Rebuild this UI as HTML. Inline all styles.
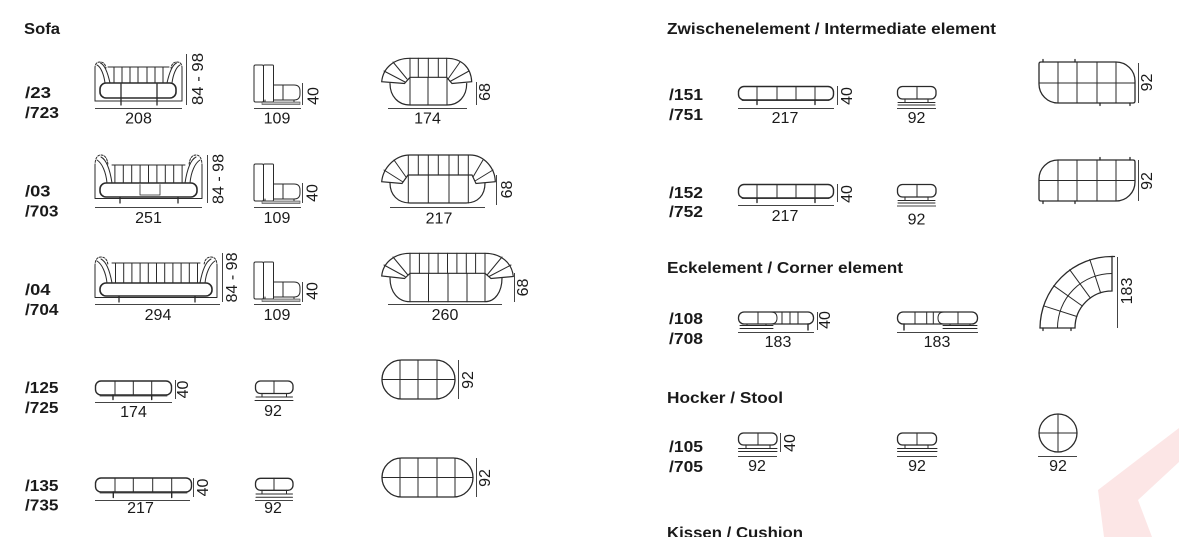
<!DOCTYPE html>
<html><head><meta charset="utf-8"><title>Sofa</title>
<style>
html,body{margin:0;padding:0;background:#fff;width:1179px;height:537px;overflow:hidden}
svg{display:block}
text{font-family:"Liberation Sans",Arial,sans-serif;fill:#1a1a1a}
.h,.l{font-weight:bold;font-size:16px}
.d{font-size:16px;text-anchor:middle}
</style></head><body>
<svg xmlns="http://www.w3.org/2000/svg" width="1179" height="537" viewBox="0 0 1179 537">
<rect width="1179" height="537" fill="#fff"/>
<polygon points="1098,490 1179,428 1179,462 1138,500 1152,537 1104,537" fill="#fce6e6"/>

<!-- headings -->
<text class="h" x="24" y="34" textLength="36" lengthAdjust="spacingAndGlyphs">Sofa</text>
<text class="h" x="667" y="34" textLength="329" lengthAdjust="spacingAndGlyphs">Zwischenelement / Intermediate element</text>
<text class="h" x="667" y="273" textLength="236" lengthAdjust="spacingAndGlyphs">Eckelement / Corner element</text>
<text class="h" x="667" y="403" textLength="116" lengthAdjust="spacingAndGlyphs">Hocker / Stool</text>
<text class="h" x="667" y="538" textLength="136" lengthAdjust="spacingAndGlyphs">Kissen / Cushion</text>

<!-- labels left -->
<text class="l" x="25" y="98" textLength="26" lengthAdjust="spacingAndGlyphs">/23</text>
<text class="l" x="25" y="118" textLength="34" lengthAdjust="spacingAndGlyphs">/723</text>
<text class="l" x="25" y="196.5" textLength="25.5" lengthAdjust="spacingAndGlyphs">/03</text>
<text class="l" x="25" y="216.5" textLength="33.5" lengthAdjust="spacingAndGlyphs">/703</text>
<text class="l" x="25" y="295" textLength="25.5" lengthAdjust="spacingAndGlyphs">/04</text>
<text class="l" x="25" y="315" textLength="33.5" lengthAdjust="spacingAndGlyphs">/704</text>
<text class="l" x="25" y="393" textLength="33.5" lengthAdjust="spacingAndGlyphs">/125</text>
<text class="l" x="25" y="413" textLength="33.5" lengthAdjust="spacingAndGlyphs">/725</text>
<text class="l" x="25" y="491" textLength="33.5" lengthAdjust="spacingAndGlyphs">/135</text>
<text class="l" x="25" y="510.5" textLength="33.5" lengthAdjust="spacingAndGlyphs">/735</text>
<!-- labels right -->
<text class="l" x="669" y="100" textLength="34" lengthAdjust="spacingAndGlyphs">/151</text>
<text class="l" x="669" y="120" textLength="34" lengthAdjust="spacingAndGlyphs">/751</text>
<text class="l" x="669" y="198" textLength="34" lengthAdjust="spacingAndGlyphs">/152</text>
<text class="l" x="669" y="217" textLength="34" lengthAdjust="spacingAndGlyphs">/752</text>
<text class="l" x="669" y="324" textLength="34" lengthAdjust="spacingAndGlyphs">/108</text>
<text class="l" x="669" y="344" textLength="34" lengthAdjust="spacingAndGlyphs">/708</text>
<text class="l" x="669" y="452" textLength="34" lengthAdjust="spacingAndGlyphs">/105</text>
<text class="l" x="669" y="472" textLength="34" lengthAdjust="spacingAndGlyphs">/705</text>

<!-- dimension lines -->
<g stroke="#444" stroke-width="1" fill="none">
<path d="M95,108.5 H182 M186.5,54 V105 M254,108.5 H301 M302.5,83 V105 M388,108.5 H467 M476.5,82 V105"/>
<path d="M95,207.5 H202 M207.5,155 V203 M254,207.5 H301 M302.5,183 V203 M390,207.5 H485 M496.5,175 V205"/>
<path d="M95,304.5 H220 M222.5,253 V302 M254,304.5 H301 M302.5,282 V302 M388,304.5 H502 M514.5,273 V302"/>
<path d="M95,402.5 H172 M175.5,380 V399 M458.5,360 V399"/>
<path d="M95,500.5 H190 M193.5,478 V497 M255,500.5 H293 M476.5,458 V497"/>
<path d="M738,108.5 H834 M837.5,86 V105 M897,108.5 H936 M1138.5,63 V103"/>
<path d="M738,205.5 H834 M837.5,184 V202 M897,206 H936 M1138.5,160 V201"/>
<path d="M738,332.5 H814 M817.5,312 V330 M897,332.5 H978 M1117.5,257 V328"/>
<path d="M738,456.5 H777 M780.5,433 V452 M897,456.5 H937 M1038,456.5 H1077"/>
</g>

<!-- drawings -->
<g stroke="#2a2a2a" stroke-width="1" fill="none" stroke-linecap="round">

<!-- ROW 1 front -->
<path d="M95,101 V68 M182,101 V68"/>
<path d="M95,68 Q95,62 100,62 Q105,62 106,68 M182,68 Q182,62 177,62 Q172,62 171,68" stroke-dasharray="2 1.5"/>
<path d="M97,65 C101,67 104,75 105,83 M100.5,63 C105,65 108,74 110,83 M180,65 C176,67 173,75 172,83 M176.5,63 C172,65 169,74 167,83"/>
<path d="M108,67 H169"/>
<path d="M114,67 V83 M122,67 V83 M130,67 V83 M138,67 V83 M147,67 V83 M155,67 V83 M163,67 V83"/>
<rect x="100" y="83" width="76" height="15" rx="6" fill="#fff" stroke-width="1.6"/>
<path d="M95,101 H182"/>
<path d="M121,84 V105 M157,84 V105" stroke-width="1.3"/>

<!-- ROW 2 front -->
<path d="M95,198 V166 M202,198 V166"/>
<path d="M95,166 Q95,155 101,155 Q107,155 108,165 M202,166 Q202,155 196,155 Q190,155 189,165" stroke-dasharray="2 1.5"/>
<path d="M97,160 C102,163 106,172 107,183 M101,157 C107,160 110,170 112,183 M200,160 C195,163 191,172 190,183 M196,157 C190,160 187,170 185,183"/>
<path d="M112,165 H185"/>
<path d="M114.9,165 V183 M123.3,165 V183 M131.7,165 V183 M140.1,165 V183 M148.5,165 V183 M156.9,165 V183 M165.3,165 V183 M173.7,165 V183 M182.1,165 V183"/>
<rect x="100" y="183" width="97" height="14" rx="6" fill="#fff" stroke-width="1.6"/>
<path d="M140,184.5 V195 H160 V184.5" stroke-width=".8"/>
<path d="M95,198.5 H202"/>
<path d="M120,197 V203 M178,197 V203" stroke-width="1.3"/>

<!-- ROW 3 front -->
<path d="M95,297 V266 M217,297 V266"/>
<path d="M95,266 Q95,257 101,257 Q107,257 108,265 M217,266 Q217,257 211,257 Q205,257 204,265" stroke-dasharray="2 1.5"/>
<path d="M97,261 C102,264 106,273 107,283 M101,259 C107,262 110,272 112,283 M215,261 C210,264 206,273 205,283 M211,259 C205,262 202,272 200,283"/>
<path d="M112,263 H200"/>
<path d="M115.5,263 V283 M123.7,263 V283 M131.9,263 V283 M140.1,263 V283 M148.3,263 V283 M156.5,263 V283 M164.7,263 V283 M172.9,263 V283 M181.1,263 V283 M189.3,263 V283 M197.5,263 V283"/>
<rect x="100" y="283" width="112" height="13" rx="6" fill="#fff" stroke-width="1.6"/>
<path d="M95,297.5 H217"/>
<path d="M119,296 V302 M195,296 V302" stroke-width="1.3"/>

<!-- side views rows 1-3 -->
<g>
<rect x="254" y="65" width="9.5" height="37" rx="1.5"/>
<rect x="263.5" y="65" width="10" height="37" rx="1"/>
<path d="M273.5,85 H294 Q300,85 300,91 V94 Q300,100 294,100 H273.5"/>
<path d="M283,85 V100"/>
<path d="M265,100 V102 M294,100 V102"/>
<rect x="262" y="102" width="38" height="2.5" fill="#bbb" stroke="#444" stroke-width=".6"/>
</g>
<g transform="translate(0,99)">
<rect x="254" y="65" width="9.5" height="37" rx="1.5"/>
<rect x="263.5" y="65" width="10" height="37" rx="1"/>
<path d="M273.5,85 H294 Q300,85 300,91 V94 Q300,100 294,100 H273.5"/>
<path d="M283,85 V100"/>
<path d="M265,100 V102 M294,100 V102"/>
<rect x="262" y="102" width="38" height="2.5" fill="#bbb" stroke="#444" stroke-width=".6"/>
</g>
<g transform="translate(0,197)">
<rect x="254" y="65" width="9.5" height="37" rx="1.5"/>
<rect x="263.5" y="65" width="10" height="37" rx="1"/>
<path d="M273.5,85 H294 Q300,85 300,91 V94 Q300,100 294,100 H273.5"/>
<path d="M283,85 V100"/>
<path d="M265,100 V102 M294,100 V102"/>
<rect x="262" y="102" width="38" height="2.5" fill="#bbb" stroke="#444" stroke-width=".6"/>
</g>

<!-- ROW 1 top -->
<path d="M390,83.5 C390,96 398,105 410,105 H447 C459,105 466.7,96 466.7,83.5" stroke-width="1.2"/>
<path d="M410,77.3 V105 M428,77.3 V105 M447,77.3 V105"/>
<path d="M381.7,81.7 C383,68 394,58.3 410,58.3 H446.7 C462,58.3 471,68 471.7,81.7 L452,83.5 L446.7,77.3 H410 L404.5,83.5 Z" fill="#fff" stroke-width="1.2"/>
<path d="M410,58.3 V77.3 M418.3,58.3 V77.3 M428.3,58.3 V77.3 M438.3,58.3 V77.3 M446.7,58.3 V77.3"/>
<path d="M384,71 L405,82 M393,62 L407,79 M469,71 L450,81.5 M460,62 L448,79"/>

<!-- ROW 2 top -->
<path d="M390,183 C390,195 398,203 410,203 H466 C478,203 485,195 485,183" stroke-width="1.2"/>
<path d="M408.3,175 V203 M428.3,175 V203 M449,175 V203 M468.3,175 V203"/>
<path d="M381.7,181.7 C383,168 395,155 410,155 H470 C484,155 495,168 495.3,181.7 L476,183.5 L472,175 H408 L402,183.5 Z" fill="#fff" stroke-width="1.2"/>
<path d="M408.3,155 V175 M418.3,155 V175 M428.3,155 V175 M438.3,155 V175 M449,155 V175 M458.3,155 V175 M468.3,155 V175"/>
<path d="M384,170 L403,182 M394,160 L406,177 M493,170 L475,181 M483,160 L473,177"/>

<!-- ROW 3 top -->
<path d="M390,278 C390,292 398,301.7 410,301.7 H485 C495,301.7 502,292 502,278" stroke-width="1.2"/>
<path d="M410,273.3 V301.7 M428.5,273.3 V301.7 M448,273.3 V301.7 M467,273.3 V301.7 M485,273.3 V301.7"/>
<path d="M381.7,276 C383,263 394,253.3 410,253.3 H485 C501,253.3 512,263 513.3,276.5 L491,278.5 L485,273.3 H410 L404.5,278.5 Z" fill="#fff" stroke-width="1.2"/>
<path d="M410,253.3 V273.3 M419.4,253.3 V273.3 M428.8,253.3 V273.3 M438.1,253.3 V273.3 M447.5,253.3 V273.3 M456.9,253.3 V273.3 M466.3,253.3 V273.3 M475.6,253.3 V273.3 M485,253.3 V273.3"/>
<path d="M384,265 L405,276.5 M393,257 L407.5,274.5 M511,265 L489,276.5 M502,257 L487.5,274.5"/>

<!-- ROW 4 front -->
<rect x="95.5" y="381" width="76" height="14" rx="5.5" stroke-width="1.4"/>
<path d="M115,381 V395 M133.3,381 V395 M151.7,381 V395"/>
<path d="M100,396 H167" stroke-width=".8"/>
<path d="M113,395 V399.5 M151.7,395 V399.5" stroke-width="1.4"/>
<!-- ROW 4 side -->
<rect x="255.5" y="381" width="37.5" height="12.5" rx="5" stroke-width="1.3"/>
<path d="M274,381 V393.5"/>
<path d="M262,393.5 V397 M286.5,393.5 V397"/>
<path d="M256,397 H292.5 M255,400.5 H293"/>
<!-- ROW 4 top -->
<rect x="382" y="360" width="73" height="39" rx="19.5" stroke-width="1.3"/>
<path d="M400,360 V399 M418,360 V399 M437,360 V399 M382,379.5 H455"/>

<!-- ROW 5 front -->
<rect x="95.5" y="478" width="96" height="14" rx="5.5" stroke-width="1.4"/>
<path d="M115,478 V492 M133.3,478 V492 M152.7,478 V492 M171.7,478 V492"/>
<path d="M100,493 H187" stroke-width=".8"/>
<path d="M113.3,492 V497.5 M171.7,492 V497.5" stroke-width="1.4"/>
<!-- ROW 5 side -->
<rect x="255.5" y="478.3" width="37.5" height="12" rx="5" stroke-width="1.3"/>
<path d="M274,478.3 V490.3"/>
<path d="M262,490.3 V494 M286.5,490.3 V494"/>
<path d="M256,494 H292.5 M256,497.3 H292.5"/>
<!-- ROW 5 top -->
<rect x="382" y="458" width="91" height="39" rx="19.5" stroke-width="1.3"/>
<path d="M400,458 V497 M418,458 V497 M437,458 V497 M455,458 V497 M382,477.5 H473"/>

<!-- /151 front -->
<rect x="738.5" y="86.5" width="95" height="13.5" rx="5.5" stroke-width="1.4"/>
<path d="M757,86.5 V100 M777,86.5 V100 M796,86.5 V100 M815,86.5 V100"/>
<path d="M742,100.5 H829" stroke-width=".7"/>
<path d="M757,100 V104.5 M815,100 V104.5" stroke-width="1.4"/>
<!-- /152 front -->
<g transform="translate(0,98)">
<rect x="738.5" y="86.5" width="95" height="13.5" rx="5.5" stroke-width="1.4"/>
<path d="M757,86.5 V100 M777,86.5 V100 M796,86.5 V100 M815,86.5 V100"/>
<path d="M742,100.5 H829" stroke-width=".7"/>
<path d="M757,100 V104.5 M815,100 V104.5" stroke-width="1.4"/>
</g>
<!-- /151 side -->
<rect x="897.5" y="86.5" width="38.5" height="12.5" rx="5" stroke-width="1.3"/>
<path d="M917,86.5 V99"/>
<path d="M905,99 V102.5 M928,99 V102.5"/>
<path d="M898,102.5 H935 M898,105 H935"/>
<!-- /152 side -->
<g transform="translate(0,98)">
<rect x="897.5" y="86.5" width="38.5" height="12.5" rx="5" stroke-width="1.3"/>
<path d="M917,86.5 V99"/>
<path d="M905,99 V102.5 M928,99 V102.5"/>
<path d="M898,102.5 H935 M898,105 H935"/>
</g>

<!-- /151 top -->
<path d="M1041,62 H1116 A19,19 0 0 1 1135,81 V101 Q1135,103 1133,103 H1058 A19,19 0 0 1 1039,84 V64 Q1039,62 1041,62 Z" stroke-width="1.3"/>
<path d="M1058,62 V103 M1077,62 V103 M1097,62 V103 M1116,62 V103 M1039,83 H1135"/>
<path d="M1043,59.5 V62 M1075,59.5 V62 M1100,103 V105.5 M1130,103 V105.5" stroke-width="1.3"/>
<!-- /152 top -->
<path d="M1058,160 H1133 Q1135,160 1135,162 V182 A19,19 0 0 1 1116,201 H1041 Q1039,201 1039,199 V179 A19,19 0 0 1 1058,160 Z" stroke-width="1.3"/>
<path d="M1058,160 V201 M1077,160 V201 M1097,160 V201 M1116,160 V201 M1039,180.5 H1135"/>
<path d="M1100,157.5 V160 M1130,157.5 V160 M1043,201 V203.5 M1075,201 V203.5" stroke-width="1.3"/>

<!-- corner front 1 -->
<rect x="738.5" y="312" width="75" height="12" rx="5.5" stroke-width="1.3"/>
<path d="M771,312 Q777,312 777,318 Q777,324 771,324"/>
<path d="M758,312 V324 M782,312 V324 M790,312 V324 M798,312 V324"/>
<path d="M747,324 V325.5 M766,324 V325.5 M740,325.5 H773 M740,328.5 H773"/>
<path d="M808,324 V330" stroke-width="1.4"/>
<!-- corner front 2 -->
<rect x="897.5" y="312" width="80" height="12" rx="5.5" stroke-width="1.3"/>
<path d="M944,312 Q938,312 938,318 Q938,324 944,324"/>
<path d="M915,312 V324 M926.7,312 V324 M933.3,312 V324 M958,312 V324"/>
<path d="M950,324 V325.5 M970,324 V325.5 M943,325.5 H977 M943,328.5 H977"/>
<path d="M904,324 V330" stroke-width="1.4"/>
<!-- corner top -->
<path d="M1040,328 A72,72 0 0 1 1112,256.5 V291 A37,37 0 0 0 1075,328 Z" stroke-width="1.3"/>
<path d="M1057.5,328 A54.5,54.5 0 0 1 1112,273.5"/>
<path d="M1076.9,316.5 L1043.5,305.8 M1082.3,306 L1053.7,285.7 M1090.3,297.9 L1069.7,269.7 M1100.6,292.8 L1089.8,259.5"/>
<path d="M1043,328 V330.5 M1071,328 V330.5 M1112,256.5 H1114.5" stroke-width="1.3"/>

<!-- hocker front -->
<rect x="738.5" y="433" width="38.5" height="12" rx="5" stroke-width="1.3"/>
<path d="M758,433 V445"/>
<path d="M746,445 V448.5 M770,445 V448.5"/>
<path d="M738.5,448.5 H777 M738.5,451.5 H777"/>
<!-- hocker side -->
<rect x="897.5" y="433" width="39" height="12" rx="5" stroke-width="1.3"/>
<path d="M917,433 V445"/>
<path d="M905,445 V448.5 M928,445 V448.5"/>
<path d="M897.5,448.5 H937 M897.5,451.5 H937"/>
<!-- hocker top -->
<circle cx="1058" cy="433" r="19" stroke-width="1.3"/>
<path d="M1039,433 H1077 M1058,414 V452"/>
</g>

<!-- dimension numbers -->
<text class="d" x="138.5" y="123.5">208</text>
<text class="d" x="277" y="123.5">109</text>
<text class="d" x="427.5" y="123.5">174</text>
<text class="d" x="148.5" y="223">251</text>
<text class="d" x="277" y="223">109</text>
<text class="d" x="439" y="223.5">217</text>
<text class="d" x="158" y="320">294</text>
<text class="d" x="277" y="320">109</text>
<text class="d" x="445" y="320">260</text>
<text class="d" x="133.5" y="417">174</text>
<text class="d" x="273" y="416">92</text>
<text class="d" x="140.5" y="513">217</text>
<text class="d" x="273" y="513">92</text>
<text class="d" x="785" y="123">217</text>
<text class="d" x="916.5" y="123">92</text>
<text class="d" x="785" y="221">217</text>
<text class="d" x="916.5" y="224.5">92</text>
<text class="d" x="778" y="347">183</text>
<text class="d" x="937" y="347">183</text>
<text class="d" x="757" y="471">92</text>
<text class="d" x="917" y="471">92</text>
<text class="d" x="1058" y="471">92</text>

<!-- rotated dimension numbers -->
<text class="d" transform="translate(203,79) rotate(-90)" textLength="52" lengthAdjust="spacingAndGlyphs">84 - 98</text>
<text class="d" transform="translate(318.5,96) rotate(-90)">40</text>
<text class="d" transform="translate(490,92) rotate(-90)">68</text>
<text class="d" transform="translate(223.5,179) rotate(-90)" textLength="50" lengthAdjust="spacingAndGlyphs">84 - 98</text>
<text class="d" transform="translate(317.5,193) rotate(-90)">40</text>
<text class="d" transform="translate(512,189.5) rotate(-90)">68</text>
<text class="d" transform="translate(237,277.5) rotate(-90)" textLength="50" lengthAdjust="spacingAndGlyphs">84 - 98</text>
<text class="d" transform="translate(317.5,291) rotate(-90)">40</text>
<text class="d" transform="translate(528,287.5) rotate(-90)">68</text>
<text class="d" transform="translate(188,389.5) rotate(-90)">40</text>
<text class="d" transform="translate(473,380) rotate(-90)">92</text>
<text class="d" transform="translate(208,487.5) rotate(-90)">40</text>
<text class="d" transform="translate(490,478) rotate(-90)">92</text>
<text class="d" transform="translate(852,96) rotate(-90)">40</text>
<text class="d" transform="translate(1152,82.5) rotate(-90)">92</text>
<text class="d" transform="translate(852,194) rotate(-90)">40</text>
<text class="d" transform="translate(1152,181) rotate(-90)">92</text>
<text class="d" transform="translate(830,320) rotate(-90)">40</text>
<text class="d" transform="translate(1132,291) rotate(-90)">183</text>
<text class="d" transform="translate(795,443) rotate(-90)">40</text>
</svg>
</body></html>
